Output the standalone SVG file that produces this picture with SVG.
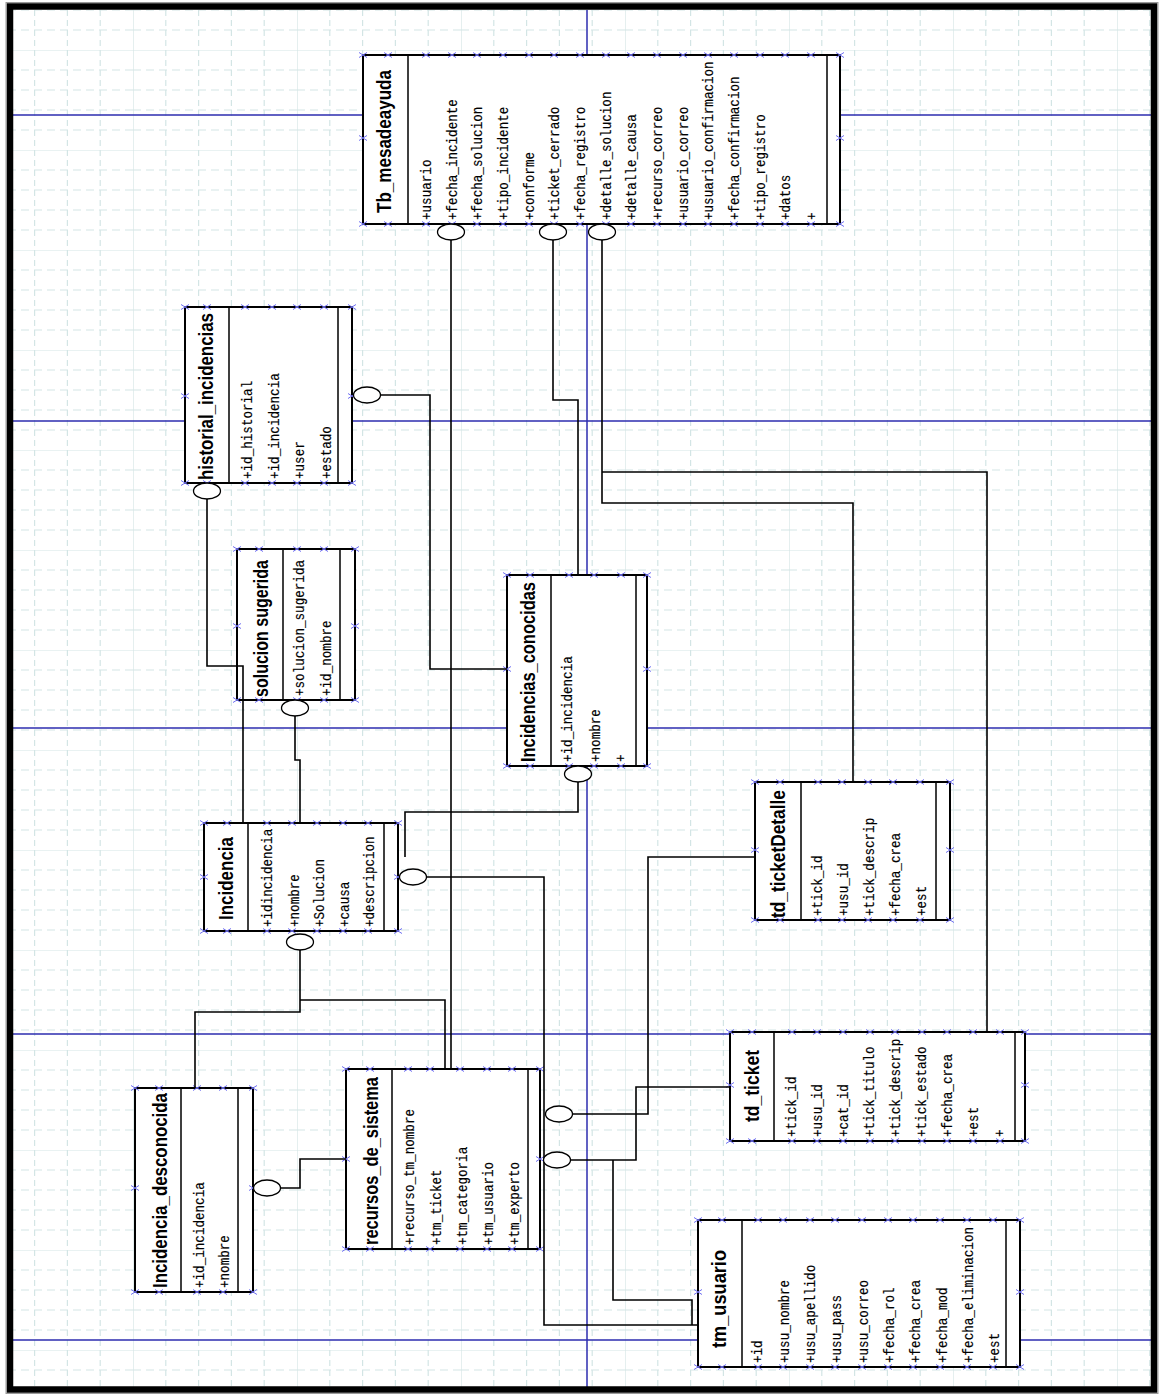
<svg xmlns="http://www.w3.org/2000/svg" xmlns:xlink="http://www.w3.org/1999/xlink" width="1161" height="1396" viewBox="0 0 1161 1396">
  <defs>
    <style>
      .tb { fill: #ffffff; stroke: #000000; stroke-width: 2; }
      .dv { fill: none; stroke: #000000; stroke-width: 1.5; }
      .ttl { font-family: "Liberation Sans Narrow", "Liberation Sans", Arial, sans-serif; font-weight: bold; font-size: 20px; fill: #000000; text-anchor: middle; }
      .at { font-family: "Liberation Mono", "DejaVu Sans Mono", monospace; font-size: 12.6px; fill: #000000; stroke: #000000; stroke-width: 0.15; }
      .mk { fill: none; stroke: #6f6ff2; stroke-width: 1; }
      .cn { fill: none; stroke: #000000; stroke-width: 1.6; }
      .el { fill: #ffffff; stroke: #000000; stroke-width: 1.3; }
      .pg { fill: none; stroke: #2e2eb0; stroke-width: 1.5; }
      .gmaj { stroke: #d3e5e5; stroke-width: 1.2; fill: none; }
      .gmin { stroke: #d3e5e5; stroke-width: 1.2; fill: none; }
    </style>
    <pattern id="grid" x="133" y="50" width="164" height="100" patternUnits="userSpaceOnUse">
      <path class="gmaj" d="M0,0V100M0,0H164"/>
      <path class="gmin" stroke-dasharray="6,4" d="M32.8,0V100M65.6,0V100M98.4,0V100M131.2,0V100"/>
      <path class="gmin" stroke-dasharray="8,5" d="M0,20H164M0,40H164M0,60H164M0,80H164"/>
    </pattern>
  </defs>

  <!-- page background and drawing grid -->
  <rect x="0" y="0" width="1161" height="1396" fill="#ffffff"/>
  <rect x="13" y="10" width="1138" height="1377" fill="url(#grid)"/>

  <!-- page break lines -->
  <path class="pg" d="M13,115H1151M13,421H1151M13,728H1151M13,1034H1151M13,1340H1151M587,10V1387"/>

  <!-- Tb_mesadeayuda -->
  <g id="tb_mesadeayuda">
    <rect class="tb" x="363" y="55" width="477" height="169"/>
    <path class="dv" d="M408,55V224M827,55V224"/>
    <text class="ttl" transform="translate(390.5,141.5) rotate(-90)" textLength="143" lengthAdjust="spacingAndGlyphs">Tb_mesadeayuda</text>
    <text class="at" transform="translate(431,220) rotate(-90) scale(1,1.2)">+usuario</text>
    <text class="at" transform="translate(456.7,220) rotate(-90) scale(1,1.2)">+fecha_incidente</text>
    <text class="at" transform="translate(482.3,220) rotate(-90) scale(1,1.2)">+fecha_solucion</text>
    <text class="at" transform="translate(508,220) rotate(-90) scale(1,1.2)">+tipo_incidente</text>
    <text class="at" transform="translate(533.7,220) rotate(-90) scale(1,1.2)">+conforme</text>
    <text class="at" transform="translate(559.3,220) rotate(-90) scale(1,1.2)">+ticket_cerrado</text>
    <text class="at" transform="translate(585,220) rotate(-90) scale(1,1.2)">+fecha_registro</text>
    <text class="at" transform="translate(610.7,220) rotate(-90) scale(1,1.2)">+detalle_solucion</text>
    <text class="at" transform="translate(636.3,220) rotate(-90) scale(1,1.2)">+detalle_causa</text>
    <text class="at" transform="translate(662,220) rotate(-90) scale(1,1.2)">+recurso_correo</text>
    <text class="at" transform="translate(687.7,220) rotate(-90) scale(1,1.2)">+usuario_correo</text>
    <text class="at" transform="translate(713.3,220) rotate(-90) scale(1,1.2)">+usuario_confirmacion</text>
    <text class="at" transform="translate(739,220) rotate(-90) scale(1,1.2)">+fecha_confirmacion</text>
    <text class="at" transform="translate(764.7,220) rotate(-90) scale(1,1.2)">+tipo_registro</text>
    <text class="at" transform="translate(790.3,220) rotate(-90) scale(1,1.2)">+datos</text>
    <text class="at" transform="translate(816,220) rotate(-90) scale(1,1.2)">+</text>
    <path id="mk-tb" class="mk" d="M359,52.5l8,5m-8,0l8,-5M384,52.5l8,5m-8,0l8,-5M422,52.5l8,5m-8,0l8,-5M448,52.5l8,5m-8,0l8,-5M473,52.5l8,5m-8,0l8,-5M499,52.5l8,5m-8,0l8,-5M525,52.5l8,5m-8,0l8,-5M550,52.5l8,5m-8,0l8,-5M576,52.5l8,5m-8,0l8,-5M602,52.5l8,5m-8,0l8,-5M627,52.5l8,5m-8,0l8,-5M653,52.5l8,5m-8,0l8,-5M679,52.5l8,5m-8,0l8,-5M704,52.5l8,5m-8,0l8,-5M730,52.5l8,5m-8,0l8,-5M756,52.5l8,5m-8,0l8,-5M781,52.5l8,5m-8,0l8,-5M807,52.5l8,5m-8,0l8,-5M836,52.5l8,5m-8,0l8,-5"/>
    <use xlink:href="#mk-tb" href="#mk-tb" y="169"/>
    <path class="mk" d="M359,135.5l8,5m-8,0l8,-5M836,135.5l8,5m-8,0l8,-5"/>
  </g>

  <!-- historial_incidencias -->
  <g id="historial_incidencias">
    <rect class="tb" x="185" y="307" width="167" height="176"/>
    <path class="dv" d="M229,307V483M338,307V483"/>
    <text class="ttl" transform="translate(212.5,396.5) rotate(-90)" textLength="167" lengthAdjust="spacingAndGlyphs">historial_incidencias</text>
    <text class="at" transform="translate(252,479) rotate(-90) scale(1,1.2)">+id_historial</text>
    <text class="at" transform="translate(279,479) rotate(-90) scale(1,1.2)">+id_incidencia</text>
    <text class="at" transform="translate(304,479) rotate(-90) scale(1,1.2)">+user</text>
    <text class="at" transform="translate(331,479) rotate(-90) scale(1,1.2)">+estado</text>
    <path id="mk-hi" class="mk" d="M181,304.5l8,5m-8,0l8,-5M203,304.5l8,5m-8,0l8,-5M241,304.5l8,5m-8,0l8,-5M268,304.5l8,5m-8,0l8,-5M293,304.5l8,5m-8,0l8,-5M320,304.5l8,5m-8,0l8,-5M348,304.5l8,5m-8,0l8,-5"/>
    <use xlink:href="#mk-hi" href="#mk-hi" y="176"/>
    <path class="mk" d="M181,393.5l8,5m-8,0l8,-5M348,393.5l8,5m-8,0l8,-5"/>
  </g>

  <!-- solucion sugerida -->
  <g id="solucion_sugerida">
    <rect class="tb" x="237" y="549" width="118" height="151"/>
    <path class="dv" d="M283,549V700M340,549V700"/>
    <text class="ttl" transform="translate(267.5,628.5) rotate(-90)" textLength="137" lengthAdjust="spacingAndGlyphs">solucion sugerida</text>
    <text class="at" transform="translate(304,696) rotate(-90) scale(1,1.2)">+solucion_sugerida</text>
    <text class="at" transform="translate(331,696) rotate(-90) scale(1,1.2)">+id_nombre</text>
    <path id="mk-ss" class="mk" d="M233,546.5l8,5m-8,0l8,-5M255,546.5l8,5m-8,0l8,-5M293,546.5l8,5m-8,0l8,-5M320,546.5l8,5m-8,0l8,-5M351,546.5l8,5m-8,0l8,-5"/>
    <use xlink:href="#mk-ss" href="#mk-ss" y="151"/>
    <path class="mk" d="M233,623.5l8,5m-8,0l8,-5M351,623.5l8,5m-8,0l8,-5"/>
  </g>

  <!-- Incidencias_conocidas -->
  <g id="incidencias_conocidas">
    <rect class="tb" x="507" y="575" width="140" height="191"/>
    <path class="dv" d="M551,575V766M636,575V766"/>
    <text class="ttl" transform="translate(534.5,672) rotate(-90)" textLength="180" lengthAdjust="spacingAndGlyphs">Incidencias_conocidas</text>
    <text class="at" transform="translate(572,762) rotate(-90) scale(1,1.2)">+id_incidencia</text>
    <text class="at" transform="translate(600,762) rotate(-90) scale(1,1.2)">+nombre</text>
    <text class="at" transform="translate(625,762) rotate(-90) scale(1,1.2)">+</text>
    <path id="mk-ic" class="mk" d="M503,572.5l8,5m-8,0l8,-5M526,572.5l8,5m-8,0l8,-5M565,572.5l8,5m-8,0l8,-5M590,572.5l8,5m-8,0l8,-5M617,572.5l8,5m-8,0l8,-5M643,572.5l8,5m-8,0l8,-5"/>
    <use xlink:href="#mk-ic" href="#mk-ic" y="191"/>
    <path class="mk" d="M503,666.5l8,5m-8,0l8,-5M643,666.5l8,5m-8,0l8,-5"/>
  </g>

  <!-- Incidencia -->
  <g id="incidencia">
    <rect class="tb" x="204" y="823" width="194" height="108"/>
    <path class="dv" d="M248,823V931M384,823V931"/>
    <text class="ttl" transform="translate(233,878.5) rotate(-90)" textLength="83" lengthAdjust="spacingAndGlyphs">Incidencia</text>
    <text class="at" transform="translate(272,927) rotate(-90) scale(1,1.2)">+idincidencia</text>
    <text class="at" transform="translate(299,927) rotate(-90) scale(1,1.2)">+nombre</text>
    <text class="at" transform="translate(324,927) rotate(-90) scale(1,1.2)">+Solucion</text>
    <text class="at" transform="translate(349,927) rotate(-90) scale(1,1.2)">+causa</text>
    <text class="at" transform="translate(374,927) rotate(-90) scale(1,1.2)">+descripcion</text>
    <path id="mk-in" class="mk" d="M200,820.5l8,5m-8,0l8,-5M223,820.5l8,5m-8,0l8,-5M263,820.5l8,5m-8,0l8,-5M288,820.5l8,5m-8,0l8,-5M313,820.5l8,5m-8,0l8,-5M339,820.5l8,5m-8,0l8,-5M364,820.5l8,5m-8,0l8,-5M394,820.5l8,5m-8,0l8,-5"/>
    <use xlink:href="#mk-in" href="#mk-in" y="108"/>
    <path class="mk" d="M200,874.5l8,5m-8,0l8,-5M394,874.5l8,5m-8,0l8,-5"/>
  </g>

  <!-- td_ticketDetalle -->
  <g id="td_ticketDetalle">
    <rect class="tb" x="755" y="782" width="195" height="138"/>
    <path class="dv" d="M801,782V920M936,782V920"/>
    <text class="ttl" transform="translate(784.5,854) rotate(-90)" textLength="128" lengthAdjust="spacingAndGlyphs">td_ticketDetalle</text>
    <text class="at" transform="translate(822,916) rotate(-90) scale(1,1.2)">+tick_id</text>
    <text class="at" transform="translate(848,916) rotate(-90) scale(1,1.2)">+usu_id</text>
    <text class="at" transform="translate(874,916) rotate(-90) scale(1,1.2)">+tick_descrip</text>
    <text class="at" transform="translate(900,916) rotate(-90) scale(1,1.2)">+fecha_crea</text>
    <text class="at" transform="translate(926,916) rotate(-90) scale(1,1.2)">+est</text>
    <path id="mk-td" class="mk" d="M751,779.5l8,5m-8,0l8,-5M776,779.5l8,5m-8,0l8,-5M814,779.5l8,5m-8,0l8,-5M838,779.5l8,5m-8,0l8,-5M864,779.5l8,5m-8,0l8,-5M889,779.5l8,5m-8,0l8,-5M916,779.5l8,5m-8,0l8,-5M946,779.5l8,5m-8,0l8,-5"/>
    <use xlink:href="#mk-td" href="#mk-td" y="138"/>
    <path class="mk" d="M751,847.5l8,5m-8,0l8,-5M946,847.5l8,5m-8,0l8,-5"/>
  </g>

  <!-- td_ticket -->
  <g id="td_ticket">
    <rect class="tb" x="730" y="1032" width="295" height="109"/>
    <path class="dv" d="M774,1032V1141M1015,1032V1141"/>
    <text class="ttl" transform="translate(758.5,1086) rotate(-90)" textLength="72" lengthAdjust="spacingAndGlyphs">td_ticket</text>
    <text class="at" transform="translate(796,1137) rotate(-90) scale(1,1.2)">+tick_id</text>
    <text class="at" transform="translate(822,1137) rotate(-90) scale(1,1.2)">+usu_id</text>
    <text class="at" transform="translate(848,1137) rotate(-90) scale(1,1.2)">+cat_id</text>
    <text class="at" transform="translate(874,1137) rotate(-90) scale(1,1.2)">+tick_titulo</text>
    <text class="at" transform="translate(900,1137) rotate(-90) scale(1,1.2)">+tick_descrip</text>
    <text class="at" transform="translate(926,1137) rotate(-90) scale(1,1.2)">+tick_estado</text>
    <text class="at" transform="translate(952,1137) rotate(-90) scale(1,1.2)">+fecha_crea</text>
    <text class="at" transform="translate(978,1137) rotate(-90) scale(1,1.2)">+est</text>
    <text class="at" transform="translate(1004,1137) rotate(-90) scale(1,1.2)">+</text>
    <path id="mk-tt" class="mk" d="M726,1029.5l8,5m-8,0l8,-5M748,1029.5l8,5m-8,0l8,-5M788,1029.5l8,5m-8,0l8,-5M813,1029.5l8,5m-8,0l8,-5M839,1029.5l8,5m-8,0l8,-5M866,1029.5l8,5m-8,0l8,-5M891,1029.5l8,5m-8,0l8,-5M918,1029.5l8,5m-8,0l8,-5M943,1029.5l8,5m-8,0l8,-5M969,1029.5l8,5m-8,0l8,-5M996,1029.5l8,5m-8,0l8,-5M1021,1029.5l8,5m-8,0l8,-5"/>
    <use xlink:href="#mk-tt" href="#mk-tt" y="109"/>
    <path class="mk" d="M726,1082.5l8,5m-8,0l8,-5M1021,1082.5l8,5m-8,0l8,-5"/>
  </g>

  <!-- tm_usuario -->
  <g id="tm_usuario">
    <rect class="tb" x="698" y="1220" width="322" height="147"/>
    <path class="dv" d="M742,1220V1367M1006,1220V1367"/>
    <text class="ttl" transform="translate(725.5,1299) rotate(-90)" textLength="98" lengthAdjust="spacingAndGlyphs">tm_usuario</text>
    <text class="at" transform="translate(762,1363) rotate(-90) scale(1,1.2)">+id</text>
    <text class="at" transform="translate(788.5,1363) rotate(-90) scale(1,1.2)">+usu_nombre</text>
    <text class="at" transform="translate(815,1363) rotate(-90) scale(1,1.2)">+usu_apellido</text>
    <text class="at" transform="translate(841,1363) rotate(-90) scale(1,1.2)">+usu_pass</text>
    <text class="at" transform="translate(868,1363) rotate(-90) scale(1,1.2)">+usu_correo</text>
    <text class="at" transform="translate(894,1363) rotate(-90) scale(1,1.2)">+fecha_rol</text>
    <text class="at" transform="translate(920,1363) rotate(-90) scale(1,1.2)">+fecha_crea</text>
    <text class="at" transform="translate(947,1363) rotate(-90) scale(1,1.2)">+fecha_mod</text>
    <text class="at" transform="translate(973,1363) rotate(-90) scale(1,1.2)">+fecha_eliminacion</text>
    <text class="at" transform="translate(999,1363) rotate(-90) scale(1,1.2)">+est</text>
    <path id="mk-tu" class="mk" d="M694,1217.5l8,5m-8,0l8,-5M718,1217.5l8,5m-8,0l8,-5M754,1217.5l8,5m-8,0l8,-5M779,1217.5l8,5m-8,0l8,-5M806,1217.5l8,5m-8,0l8,-5M831,1217.5l8,5m-8,0l8,-5M858,1217.5l8,5m-8,0l8,-5M884,1217.5l8,5m-8,0l8,-5M909,1217.5l8,5m-8,0l8,-5M936,1217.5l8,5m-8,0l8,-5M963,1217.5l8,5m-8,0l8,-5M989,1217.5l8,5m-8,0l8,-5M1016,1217.5l8,5m-8,0l8,-5"/>
    <use xlink:href="#mk-tu" href="#mk-tu" y="147"/>
    <path class="mk" d="M694,1289.5l8,5m-8,0l8,-5M1016,1289.5l8,5m-8,0l8,-5"/>
  </g>

  <!-- recursos_de_sistema -->
  <g id="recursos_de_sistema">
    <rect class="tb" x="346" y="1069" width="194" height="180"/>
    <path class="dv" d="M392,1069V1249M528,1069V1249"/>
    <text class="ttl" transform="translate(377.5,1161) rotate(-90)" textLength="168" lengthAdjust="spacingAndGlyphs">recursos_de_sistema</text>
    <text class="at" transform="translate(414,1245) rotate(-90) scale(1,1.2)">+recurso_tm_nombre</text>
    <text class="at" transform="translate(441,1245) rotate(-90) scale(1,1.2)">+tm_ticket</text>
    <text class="at" transform="translate(467,1245) rotate(-90) scale(1,1.2)">+tm_categoria</text>
    <text class="at" transform="translate(493,1245) rotate(-90) scale(1,1.2)">+tm_usuario</text>
    <text class="at" transform="translate(519,1245) rotate(-90) scale(1,1.2)">+tm_experto</text>
    <path id="mk-rs" class="mk" d="M342,1066.5l8,5m-8,0l8,-5M366,1066.5l8,5m-8,0l8,-5M404,1066.5l8,5m-8,0l8,-5M426,1066.5l8,5m-8,0l8,-5M456,1066.5l8,5m-8,0l8,-5M483,1066.5l8,5m-8,0l8,-5M508,1066.5l8,5m-8,0l8,-5M536,1066.5l8,5m-8,0l8,-5"/>
    <use xlink:href="#mk-rs" href="#mk-rs" y="180"/>
    <path class="mk" d="M342,1156.5l8,5m-8,0l8,-5M536,1156.5l8,5m-8,0l8,-5"/>
  </g>

  <!-- Incidencia_desconocida -->
  <g id="incidencia_desconocida">
    <rect class="tb" x="135" y="1088" width="118" height="204"/>
    <path class="dv" d="M181,1088V1292M238,1088V1292"/>
    <text class="ttl" transform="translate(166.5,1190.5) rotate(-90)" textLength="195" lengthAdjust="spacingAndGlyphs">Incidencia_desconocida</text>
    <text class="at" transform="translate(204,1288) rotate(-90) scale(1,1.2)">+id_incidencia</text>
    <text class="at" transform="translate(229,1288) rotate(-90) scale(1,1.2)">+nombre</text>
    <path id="mk-id" class="mk" d="M131,1085.5l8,5m-8,0l8,-5M155,1085.5l8,5m-8,0l8,-5M193,1085.5l8,5m-8,0l8,-5M219,1085.5l8,5m-8,0l8,-5M249,1085.5l8,5m-8,0l8,-5"/>
    <use xlink:href="#mk-id" href="#mk-id" y="204"/>
    <path class="mk" d="M131,1185.5l8,5m-8,0l8,-5M249,1185.5l8,5m-8,0l8,-5"/>
  </g>

  <!-- associations: orthogonal lines with hollow ends -->
  <g id="connectors">
    <path class="cn" d="M451,240V1069"/>
    <path class="cn" d="M553,240V400H578V575"/>
    <path class="cn" d="M602,240V503H853V782M602,472H987V1032"/>
    <path class="cn" d="M380.5,395H430V669H507"/>
    <path class="cn" d="M207,499V666H243V823"/>
    <path class="cn" d="M295,716V760H300V823"/>
    <path class="cn" d="M578,782V812H405V857"/>
    <path class="cn" d="M426.5,877H544V1325H698"/>
    <path class="cn" d="M300,950V1012H195V1088M300,1000H445V1069"/>
    <path class="cn" d="M280.5,1188H300V1159H346"/>
    <path class="cn" d="M572.5,1114H648V857H755"/>
    <path class="cn" d="M570.5,1160H636V1087H730M613,1160V1300H692V1325"/>
    <ellipse class="el" cx="451" cy="232" rx="13.5" ry="8"/>
    <ellipse class="el" cx="553" cy="232" rx="13.5" ry="8"/>
    <ellipse class="el" cx="602" cy="232" rx="13.5" ry="8"/>
    <ellipse class="el" cx="367" cy="395" rx="13.5" ry="8"/>
    <ellipse class="el" cx="207" cy="491" rx="13.5" ry="8"/>
    <ellipse class="el" cx="295" cy="708" rx="13.5" ry="8"/>
    <ellipse class="el" cx="578" cy="774" rx="13.5" ry="8"/>
    <ellipse class="el" cx="413" cy="877" rx="13.5" ry="8"/>
    <ellipse class="el" cx="300" cy="942" rx="13.5" ry="8"/>
    <ellipse class="el" cx="267" cy="1188" rx="13.5" ry="8"/>
    <ellipse class="el" cx="559" cy="1114" rx="13.5" ry="8"/>
    <ellipse class="el" cx="557" cy="1160" rx="13.5" ry="8"/>
  </g>

  <!-- outer frame -->
  <rect x="6" y="2.5" width="1152" height="1391" fill="none" stroke="#9a9a9a" stroke-width="1"/>
  <rect x="10" y="6.5" width="1144" height="1383" fill="none" stroke="#000000" stroke-width="6.5"/>
</svg>
